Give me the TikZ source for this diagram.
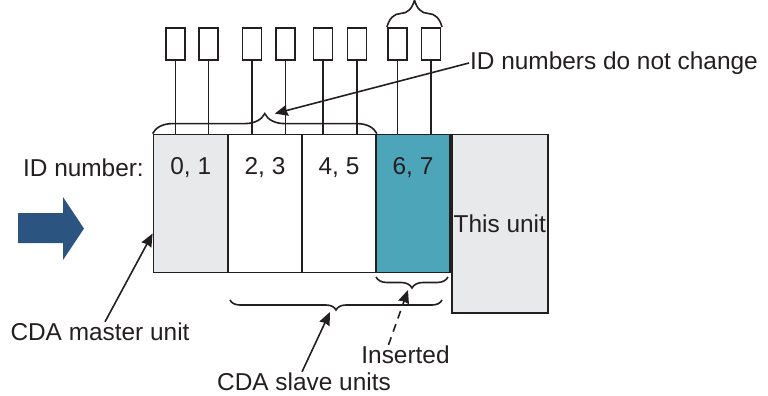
\documentclass[tikz,border=0pt]{standalone}
\usepackage{fontspec}
\setmainfont{Liberation Sans}
\usetikzlibrary{arrows.meta, calc, decorations.pathreplacing}
\definecolor{ink}{HTML}{231F20}
\definecolor{unitgray}{HTML}{E8E9EB}
\definecolor{insteal}{HTML}{4DA5B9}
\definecolor{flowblue}{HTML}{2C5480}

\tikzset{
  unitbox/.style={draw=ink, line width=1.8pt, minimum width=74pt, minimum height=138pt, inner sep=0pt},
  pinbox/.style={draw=ink, line width=1.7pt, minimum width=19pt, minimum height=32pt, inner sep=0pt},
  lbl/.style={text=ink, inner sep=1pt, font=\fontsize{24.4}{28}\selectfont},
  bracket/.style={draw=ink, line width=1.6pt, decorate, decoration={brace, amplitude=#1}},
  pointer/.style={draw=ink, line width=1.6pt, -{Stealth[length=13pt, width=11pt, inset=1pt]}}
}

\begin{document}
\begin{tikzpicture}[x=1pt, y=-1pt]
    \useasboundingbox (0,0) rectangle (768,396);
    % flow arrow
    \fill[flowblue] (18,213) -- (63,213) -- (63,197) -- (84,228.5) -- (63,260) -- (63,243) -- (18,243) -- cycle;
    % units
    \node[unitbox, fill=unitgray, minimum width=74.5pt] (u01) at (190.75,203.5) {};
    \node[unitbox, fill=white] (u23) at (265,203.5) {};
    \node[unitbox, fill=white] (u45) at (339,203.5) {};
    \node[unitbox, fill=insteal] (u67) at (413,203.5) {};
    \node[unitbox, fill=unitgray, minimum width=96pt, minimum height=178.5pt, anchor=north west] (this) at (u67.north east) {};
    \node[lbl] (tthis) at (this.center) {This unit};
    \node[lbl] (t01) at (190.75,168) {0, 1};
    \node[lbl] (t23) at (265,168) {2, 3};
    \node[lbl] (t45) at (339,168) {4, 5};
    \node[lbl] (t67) at (413,168) {6, 7};
    \node[lbl, anchor=east] (tid) at (145,168) {ID number:};
    % pins
    \foreach \px [count=\i] in {175.5, 208.5, 252, 285.5, 323, 357, 397.5, 431} {
        \node[pinbox] (p\i) at (\px,44) {};
        \draw[ink, line width=1.7pt] (p\i.south) -- (p\i.south |- u01.north);
    }
    % braces
    \draw[bracket=20pt] (u01.north west) -- (u45.north east) coordinate[midway, yshift=20pt] (bold);
    \draw[bracket=27pt] (387,27) -- (442,27);
    \draw[bracket=10pt] (442,300) -- (230,300) coordinate[midway, yshift=-10pt] (bslave);
    \draw[bracket=11pt] (448,277) -- (376,277) coordinate[midway, yshift=-11pt] (bins);
    % labels and pointers
    \node[lbl, anchor=west] (tnochg) at (469,63) {ID numbers do not change};
    \draw[pointer] (tnochg.west) -- ([xshift=10pt]bold);
    \node[lbl] (tmaster) at (100,332) {CDA master unit};
    \draw[pointer] ([xshift=5pt]tmaster.north) -- ([yshift=-30pt]u01.west);
    \node[lbl] (tslave) at (304,382) {CDA slave units};
    \draw[pointer] ([xshift=-2pt]tslave.north) -- ([xshift=-6pt, yshift=-2pt]bslave);
    \node[lbl] (tins) at (405.5,355) {Inserted};
    \draw[pointer, dash pattern=on 8pt off 6pt] ([xshift=-17pt]tins.north) -- ([xshift=-4pt, yshift=-2pt]bins);
\end{tikzpicture}
\end{document}
